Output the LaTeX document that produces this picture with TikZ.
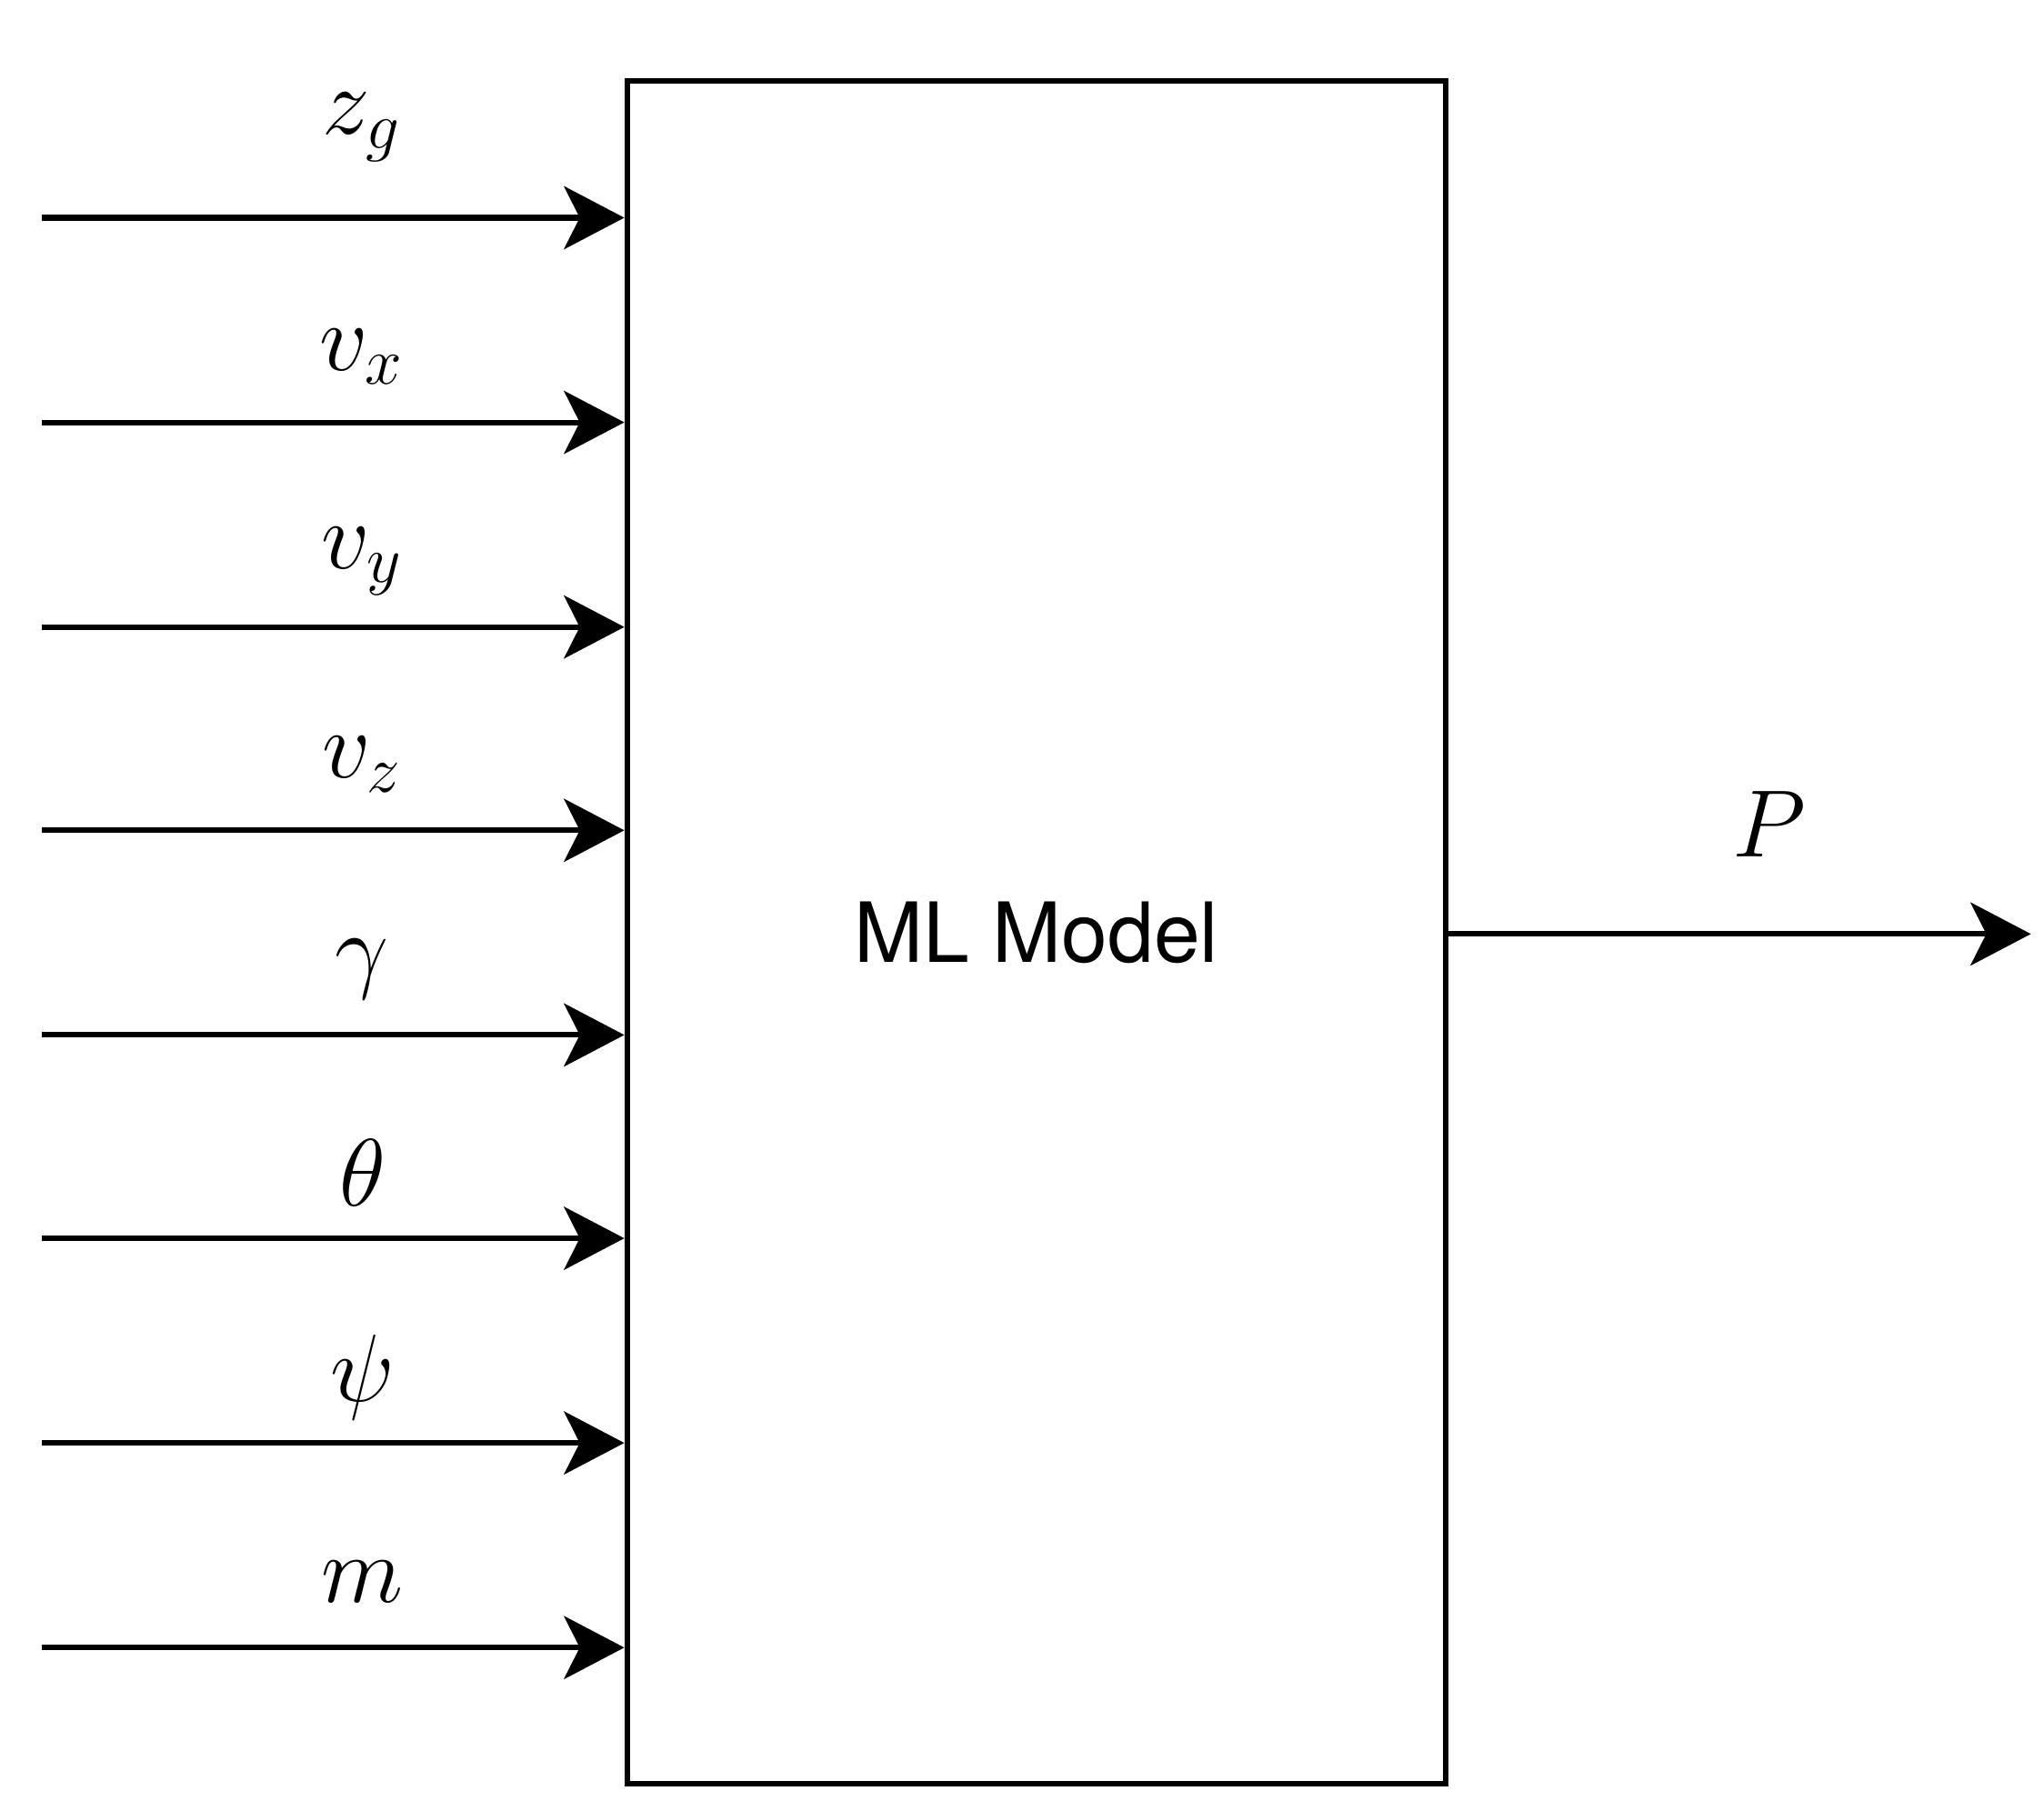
\documentclass[tikz,border=0pt]{standalone}
\usepackage{fontspec}
\setmainfont{TeX Gyre Heros}
\usetikzlibrary{positioning, arrows.meta}
\tikzset{
every picture/.style={line width=1.2pt}, % thick strokes everywhere
every edge/.style={draw, line width=1.2pt, -{Stealth[length=0.46cm, width=0.48cm, inset=0.12cm]}}, % directed inputs and output
lbl/.style={font=\fontsize{20}{24}\selectfont, yshift=0.5cm}, % label above each arrow
model/.style={draw, line width=1.2pt, minimum width=6.24cm, minimum height=12.98cm, font=\fontsize{18}{22}\selectfont}, % the box
}

\begin{document}
\begin{tikzpicture}
\useasboundingbox (0,0) rectangle (15.58,13.8);

\node[model] at (7.9, 6.69) (ml) {ML Model};

\coordinate (i1) at (0.32, 12.14);
\coordinate (i2) at (0.32, 10.58);
\coordinate (i3) at (0.32, 9.02);
\coordinate (i4) at (0.32, 7.47);
\coordinate (i5) at (0.32, 5.91);
\coordinate (i6) at (0.32, 4.36);
\coordinate (i7) at (0.32, 2.80);
\coordinate (i8) at (0.32, 1.24);
\coordinate (out) at (15.48, 6.68);

\draw (i1) edge node[lbl, pos=0.55, yshift=0.19cm]{$z_g$} (i1 -| ml.west);
\draw (i2) edge node[lbl, pos=0.55]{$v_x$} (i2 -| ml.west);
\draw (i3) edge node[lbl, pos=0.55]{$v_y$} (i3 -| ml.west);
\draw (i4) edge node[lbl, pos=0.55]{$v_z$} (i4 -| ml.west);
\draw (i5) edge node[lbl, pos=0.55]{$\gamma$} (i5 -| ml.west);
\draw (i6) edge node[lbl, pos=0.55]{$\theta$} (i6 -| ml.west);
\draw (i7) edge node[lbl, pos=0.55]{$\psi$} (i7 -| ml.west);
\draw (i8) edge node[lbl, pos=0.55]{$m$} (i8 -| ml.west);

\draw (ml.east |- out) edge node[lbl, pos=0.55, yshift=0.34cm]{$P$} (out);

\end{tikzpicture}
\end{document}
